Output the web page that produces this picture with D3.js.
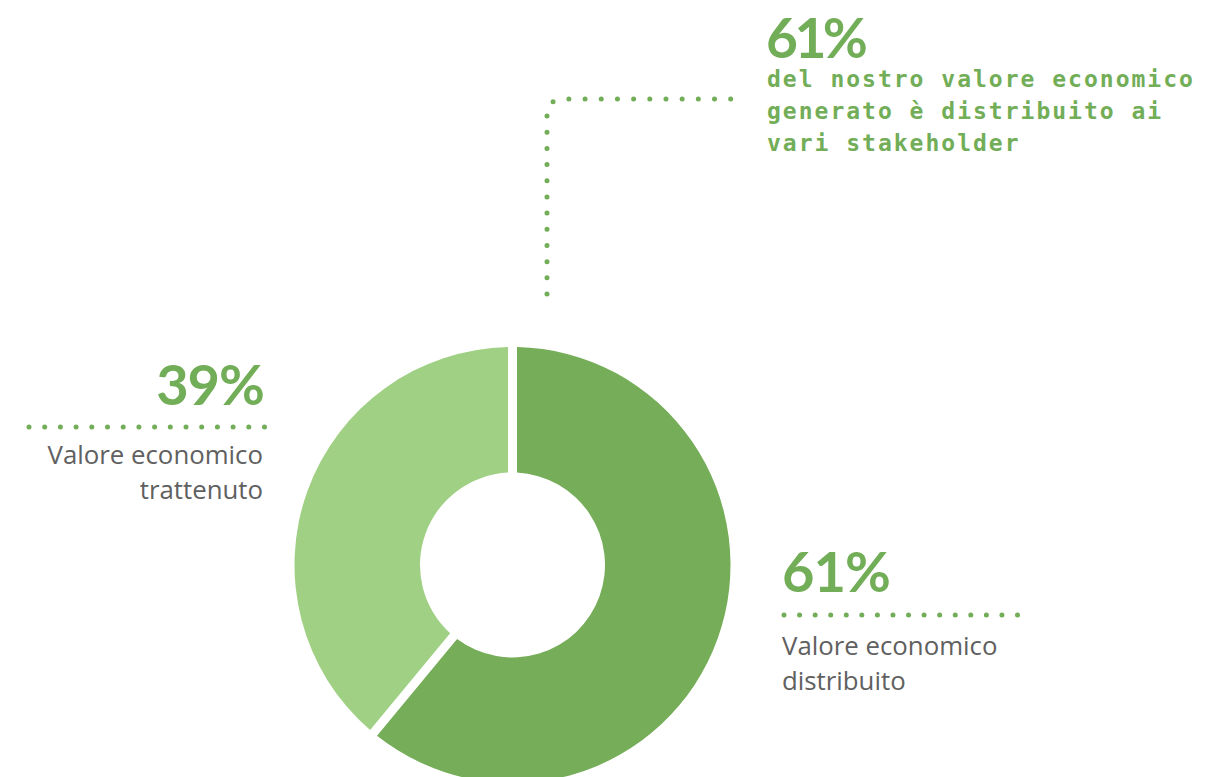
<!DOCTYPE html>
<html>
<head>
<meta charset="utf-8">
<script src="https://cdn.jsdelivr.net/npm/d3@7"></script>
<style>
  html, body { margin: 0; padding: 0; background: #fff; }
  svg { display: block; }
</style>
</head>
<body>
<svg id="chart" width="1205" height="777"></svg>
<script>
// Data
const categories = ['Valore economico distribuito', 'Valore economico trattenuto']
const values = [61, 39]
const percentLabels = ['61%', '39%']
const labelLines = [['Valore economico', 'distribuito'], ['Valore economico', 'trattenuto']]
const headlineValue = '61%'
const headlineLines = ['del nostro valore economico', 'generato è distribuito ai', 'vari stakeholder']

const theme = {
  dark: '#75ad58',
  light: '#9fd083',
  text: '#72ad57',
  grey: '#606060'
}

const svg = d3.select('#chart')
const cx = 512.5, cy = 565
const rOuter = 218, rInner = 92.5

// Donut
const pie = d3.pie().sort(null).value(d => d)
const arc = d3.arc()
  .innerRadius(rInner)
  .outerRadius(rOuter)
  .padRadius(rOuter)
  .padAngle(9 / rOuter)

const colors = d3.scaleOrdinal().domain(categories).range([theme.dark, theme.light])

svg.append('g')
  .attr('transform', `translate(${cx},${cy})`)
  .selectAll('path')
  .data(pie(values))
  .join('path')
  .attr('d', arc)
  .attr('fill', (d, i) => colors(categories[i]))

// Dotted leader: spacing is stretched so a dot lands on both ends.
function dots(d, step) {
  const p = svg.append('path')
    .attr('d', d)
    .attr('fill', 'none')
    .attr('stroke', theme.text)
    .attr('stroke-width', 5)
    .attr('stroke-linecap', 'round')
  const len = p.node().getTotalLength()
  const gap = (len - 0.5) / Math.round(len / step)
  p.attr('stroke-dasharray', `0 ${gap}`)
  return p
}

const bigFont = 'Lato, "Open Sans", sans-serif'
const bodyFont = '"Open Sans", sans-serif'

// Left callout (39%)
svg.append('text')
  .attr('x', 264).attr('y', 405)
  .attr('text-anchor', 'end')
  .style('font-family', bigFont)
  .style('font-weight', 700)
  .style('font-size', '56px')
  .style('letter-spacing', '-1px')
  .attr('fill', theme.text)
  .text(percentLabels[1])
dots('M29,427H265', 15.7)
svg.append('g').selectAll('text')
  .data(labelLines[1])
  .join('text')
  .attr('x', 263)
  .attr('y', (d, i) => 463.5 + i * 35.5)
  .attr('text-anchor', 'end')
  .style('font-family', bodyFont)
  .style('font-size', '25.8px')
  .attr('fill', theme.grey)
  .text(d => d)

// Right callout (61%)
svg.append('text')
  .attr('x', 782).attr('y', 592)
  .style('font-family', bigFont)
  .style('font-weight', 700)
  .style('font-size', '56px')
  .style('letter-spacing', '-1px')
  .attr('fill', theme.text)
  .text(percentLabels[0])
dots('M784,615H1018', 15.7)
svg.append('g').selectAll('text')
  .data(labelLines[0])
  .join('text')
  .attr('x', 782)
  .attr('y', (d, i) => 654.5 + i * 35.5)
  .style('font-family', bodyFont)
  .style('font-size', '25.8px')
  .attr('fill', theme.grey)
  .text(d => d)

// Top headline
dots('M547,294V116Q547,99 564,99H731', 16.3)
svg.append('text')
  .attr('x', 766).attr('y', 58)
  .style('font-family', bigFont)
  .style('font-weight', 700)
  .style('font-size', '55px')
  .style('letter-spacing', '-3.5px')
  .attr('fill', theme.text)
  .text(headlineValue)
svg.append('g').selectAll('text')
  .data(headlineLines)
  .join('text')
  .attr('x', 767)
  .attr('y', (d, i) => 87 + i * 32)
  .style('font-family', '"DejaVu Sans Mono", monospace')
  .style('font-weight', 700)
  .style('font-size', '23px')
  .style('letter-spacing', '2px')
  .attr('fill', theme.text)
  .text(d => d)
</script>
</body>
</html>
